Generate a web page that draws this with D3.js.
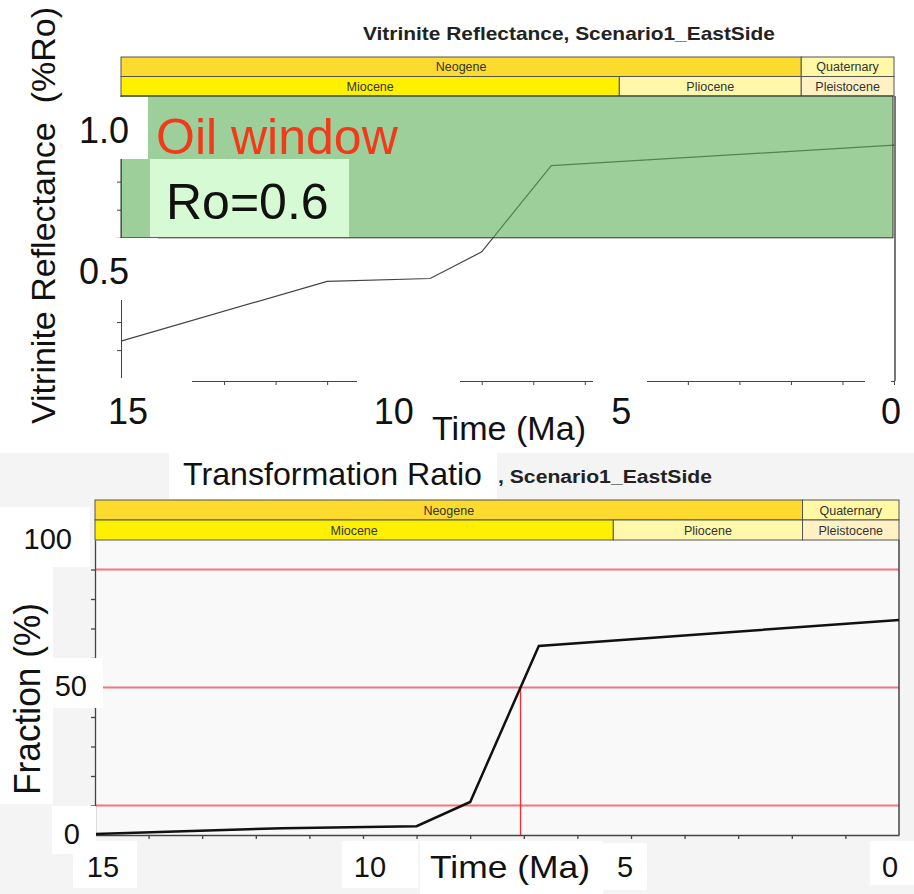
<!DOCTYPE html>
<html>
<head>
<meta charset="utf-8">
<script src="https://cdn.jsdelivr.net/npm/d3@7"></script>
<style>
  body { margin: 0; background: #fff; }
  svg { display: block; font-family: "Liberation Sans", Arial, sans-serif; }
</style>
</head>
<body>
<div id="chart"></div>
<script>

// ---- data ----
var roTime  = [15, 11.0, 9.0, 8.0, 6.65, 0];
var roValue = [0.232, 0.445, 0.455, 0.55, 0.857, 0.93];

var trTime  = [15, 11.5, 9.0, 8.0, 6.72, 0];
var trValue = [0.3, 2.3, 3.0, 11.2, 64.1, 72.9];

var periodNames = ["Neogene", "Quaternary"];
var periodFrom  = [15, 1.8];
var periodTo    = [1.8, 0];
var periodColor = ["#fddb2e", "#fff8a4"];

var epochNames = ["Miocene", "Pliocene", "Pleistocene"];
var epochFrom  = [15, 5.33, 1.8];
var epochTo    = [5.33, 1.8, 0];
var epochColor = ["#fff000", "#fff8aa", "#fff1c4"];

var oilWindowMin = 0.6;
var trLevels = [10, 50, 90];
var trMark = 50;

var topXLabels = [15, 10, 5, 0];
var topYLabels = [1.0, 0.5];
var botXLabels = [15, 10, 5, 0];
var botYLabels = [100, 50, 0];

// ---- layout ----
var W = 914, H = 894;

var svg = d3.select("#chart").append("svg")
    .attr("width", W)
    .attr("height", H);

svg.append("rect").attr("width", W).attr("height", H).attr("fill", "#fff");
// lower slide part is a light grey
svg.append("rect").attr("x", 0).attr("y", 453).attr("width", W).attr("height", H - 453).attr("fill", "#f4f4f4");

function zip(a, b) { return a.map(function(d, i) { return [d, b[i]]; }); }

function whiteBox(x, y, w, h, fill) {
    svg.append("rect").attr("x", x).attr("y", y).attr("width", w).attr("height", h)
        .attr("fill", fill || "#fff");
}

function bands(g, x, yTop, rowH) {
    var p = g.selectAll("g.period").data(periodNames).enter().append("g");
    p.append("rect")
        .attr("x", function(d, i) { return x(periodFrom[i]); })
        .attr("y", yTop)
        .attr("width", function(d, i) { return x(periodTo[i]) - x(periodFrom[i]); })
        .attr("height", rowH)
        .attr("fill", function(d, i) { return periodColor[i]; })
        .attr("stroke", "#555").attr("stroke-width", 1);
    p.append("text")
        .attr("x", function(d, i) { return (x(periodTo[i]) + x(periodFrom[i])) / 2; })
        .attr("y", yTop + rowH / 2 + 4.5)
        .attr("text-anchor", "middle")
        .style("font-size", "12.5px").attr("fill", "#333")
        .text(function(d) { return d; });

    var e = g.selectAll("g.epoch").data(epochNames).enter().append("g");
    e.append("rect")
        .attr("x", function(d, i) { return x(epochFrom[i]); })
        .attr("y", yTop + rowH)
        .attr("width", function(d, i) { return x(epochTo[i]) - x(epochFrom[i]); })
        .attr("height", rowH)
        .attr("fill", function(d, i) { return epochColor[i]; })
        .attr("stroke", "#555").attr("stroke-width", 1);
    e.append("text")
        .attr("x", function(d, i) { return (x(epochTo[i]) + x(epochFrom[i])) / 2; })
        .attr("y", yTop + rowH * 1.5 + 4.5)
        .attr("text-anchor", "middle")
        .style("font-size", "12.5px").attr("fill", "#333")
        .text(function(d) { return d; });
}

// ================= top chart : vitrinite reflectance =================
var xTop = d3.scaleLinear().domain([15, 0]).range([121, 894]);
var yTop = d3.scaleLinear().domain([0.09, 1.105]).range([381, 96]);

svg.append("text")
    .attr("x", 363).attr("y", 40)
    .attr("textLength", 412).attr("lengthAdjust", "spacingAndGlyphs")
    .style("font-size", "19px").style("font-weight", "bold").attr("fill", "#222")
    .text("Vitrinite Reflectance, Scenario1_EastSide");

bands(svg.append("g"), xTop, 57, 19.5);

// axes
svg.append("g")
    .attr("transform", "translate(" + xTop(15) + ",0)")
    .call(d3.axisLeft(yTop).tickValues(d3.range(0.1, 1.1, 0.1)).tickSize(4).tickSizeOuter(0).tickFormat(""))
    .call(function(g) { g.selectAll("path, line").attr("stroke", "#444"); });

svg.append("g")
    .attr("transform", "translate(0," + yTop.range()[0] + ")")
    .call(d3.axisBottom(xTop).tickValues(d3.range(0, 16)).tickSize(4).tickSizeOuter(0).tickFormat(""))
    .call(function(g) { g.selectAll("path, line").attr("stroke", "#444"); });

svg.append("line")
    .attr("x1", xTop(0) + 1).attr("x2", xTop(0) + 1)
    .attr("y1", yTop.range()[1]).attr("y2", yTop.range()[0])
    .attr("stroke", "#777").attr("stroke-width", 2);

// vitrinite curve (under the translucent oil window)
svg.append("path")
    .datum(zip(roTime, roValue))
    .attr("d", d3.line().x(function(d) { return xTop(d[0]); }).y(function(d) { return yTop(d[1]); }))
    .attr("fill", "none").attr("stroke", "#444").attr("stroke-width", 1.2);

// oil window
svg.append("rect")
    .attr("x", xTop(15)).attr("y", yTop(yTop.domain()[1]))
    .attr("width", xTop(0) - xTop(15) - 1)
    .attr("height", yTop(oilWindowMin) - yTop(yTop.domain()[1]))
    .attr("fill", "rgb(92,175,88)").attr("fill-opacity", 0.6)
    .attr("stroke", "#333").attr("stroke-width", 1);

// pasted label backgrounds (they cut the axis lines)
whiteBox(0, 97, 148, 62);
whiteBox(60, 238, 98, 62);
whiteBox(0, 378, 192, 66);
whiteBox(357, 378, 103, 66);
whiteBox(593, 378, 54, 66);
whiteBox(865, 378, 26, 66);
whiteBox(150, 159, 199, 78, "#d6fbd4");

svg.append("text")
    .attr("x", 156).attr("y", 154)
    .style("font-size", "50px").attr("fill", "#f03a1a")
    .text("Oil window");

svg.append("text")
    .attr("x", 166).attr("y", 219)
    .style("font-size", "50px").attr("fill", "#111")
    .text("Ro=0.6");

svg.selectAll("text.topy").data(topYLabels).enter().append("text")
    .attr("class", "topy")
    .attr("x", 129)
    .attr("y", function(d) { return yTop(d) + 18; })
    .attr("text-anchor", "end")
    .style("font-size", "36px").attr("fill", "#111")
    .text(function(d) { return d3.format(".1f")(d); });

var topXNudge = [7, 15, -15, -3];
svg.selectAll("text.topx").data(topXLabels).enter().append("text")
    .attr("class", "topx")
    .attr("x", function(d, i) { return xTop(d) + topXNudge[i]; })
    .attr("y", 424)
    .attr("text-anchor", "middle")
    .style("font-size", "36px").attr("fill", "#111")
    .text(function(d) { return d; });

svg.append("text")
    .attr("x", 432).attr("y", 440)
    .attr("textLength", 154).attr("lengthAdjust", "spacingAndGlyphs")
    .style("font-size", "33px").attr("fill", "#111")
    .text("Time (Ma)");

svg.append("text")
    .attr("transform", "translate(55,424) rotate(-90)")
    .style("font-size", "34px").attr("fill", "#111")
    .attr("xml:space", "preserve")
    .text("Vitrinite Reflectance  (%Ro)");

// ================= bottom chart : transformation ratio =================
var xBot = d3.scaleLinear().domain([15, 0]).range([95, 899]);
var yBot = d3.scaleLinear().domain([0, 100]).range([835, 540]);

whiteBox(169, 453, 328, 46);
svg.append("text")
    .attr("x", 183).attr("y", 485)
    .attr("textLength", 299).attr("lengthAdjust", "spacingAndGlyphs")
    .style("font-size", "32px").attr("fill", "#111")
    .text("Transformation Ratio");
svg.append("text")
    .attr("x", 498).attr("y", 483)
    .attr("textLength", 214).attr("lengthAdjust", "spacingAndGlyphs")
    .style("font-size", "18px").style("font-weight", "bold").attr("fill", "#222")
    .text(", Scenario1_EastSide");

svg.append("rect")
    .attr("x", xBot(15)).attr("y", yBot(100))
    .attr("width", xBot(0) - xBot(15)).attr("height", yBot(0) - yBot(100))
    .attr("fill", "#f9f9f9");

bands(svg.append("g"), xBot, 500, 20);

svg.selectAll("line.level").data(trLevels).enter().append("line")
    .attr("class", "level")
    .attr("x1", xBot(15)).attr("x2", xBot(0))
    .attr("y1", function(d) { return yBot(d); })
    .attr("y2", function(d) { return yBot(d); })
    .attr("stroke", "#f27580").attr("stroke-width", 2);

// time at which the curve reaches 50 %
var markTime = (function() {
    for (var i = 1; i < trValue.length; i++) {
        if (trValue[i - 1] < trMark && trValue[i] >= trMark) {
            var f = (trMark - trValue[i - 1]) / (trValue[i] - trValue[i - 1]);
            return trTime[i - 1] + f * (trTime[i] - trTime[i - 1]);
        }
    }
})();

svg.append("line")
    .attr("x1", xBot(markTime)).attr("x2", xBot(markTime))
    .attr("y1", yBot(trMark)).attr("y2", yBot(0))
    .attr("stroke", "#ff2a2a").attr("stroke-width", 1.3);

svg.append("g")
    .attr("transform", "translate(" + xBot(15) + ",0)")
    .call(d3.axisLeft(yBot).tickValues(d3.range(10, 100, 10)).tickSize(4).tickSizeOuter(0).tickFormat(""))
    .call(function(g) { g.selectAll("path, line").attr("stroke", "#444").attr("stroke-width", 1.3); });

svg.append("g")
    .attr("transform", "translate(0," + yBot(0) + ")")
    .call(d3.axisBottom(xBot).tickValues(d3.range(1, 15)).tickSize(4).tickSizeOuter(0).tickFormat(""))
    .call(function(g) { g.selectAll("path, line").attr("stroke", "#444").attr("stroke-width", 1.3); });

svg.append("line")
    .attr("x1", xBot(0)).attr("x2", xBot(0))
    .attr("y1", yBot(100)).attr("y2", yBot(0))
    .attr("stroke", "#444").attr("stroke-width", 1.5);

svg.append("path")
    .datum(zip(trTime, trValue))
    .attr("d", d3.line().x(function(d) { return xBot(d[0]); }).y(function(d) { return yBot(d[1]); }))
    .attr("fill", "none").attr("stroke", "#111").attr("stroke-width", 2.5);

// pasted label backgrounds
whiteBox(0, 507, 90, 60);
whiteBox(0, 567, 53, 237);
whiteBox(53, 658, 50, 50);
whiteBox(52, 806, 44, 48);
whiteBox(73, 841, 64, 47);
whiteBox(342, 841, 76, 47);
whiteBox(420, 841, 183, 53);
whiteBox(603, 843, 44, 47);
whiteBox(870, 841, 44, 44);

var botYNudge = [-8, 7, 0];
svg.selectAll("text.boty").data(botYLabels).enter().append("text")
    .attr("class", "boty")
    .attr("x", function(d, i) { return 80 + botYNudge[i]; })
    .attr("y", function(d) { return yBot(d) + 8.5; })
    .attr("text-anchor", "end")
    .style("font-size", "29px").attr("fill", "#111")
    .text(function(d) { return d; });

var botXNudge = [8, 7, -6, -9];
svg.selectAll("text.botx").data(botXLabels).enter().append("text")
    .attr("class", "botx")
    .attr("x", function(d, i) { return xBot(d) + botXNudge[i]; })
    .attr("y", 877)
    .attr("text-anchor", "middle")
    .style("font-size", "29px").attr("fill", "#111")
    .text(function(d) { return d; });

svg.append("text")
    .attr("x", 430).attr("y", 878)
    .attr("textLength", 160).attr("lengthAdjust", "spacingAndGlyphs")
    .style("font-size", "32px").attr("fill", "#111")
    .text("Time (Ma)");

svg.append("text")
    .attr("transform", "translate(40,795) rotate(-90)")
    .attr("textLength", 192).attr("lengthAdjust", "spacingAndGlyphs")
    .style("font-size", "36px").attr("fill", "#111")
    .text("Fraction (%)");

</script>
</body>
</html>
